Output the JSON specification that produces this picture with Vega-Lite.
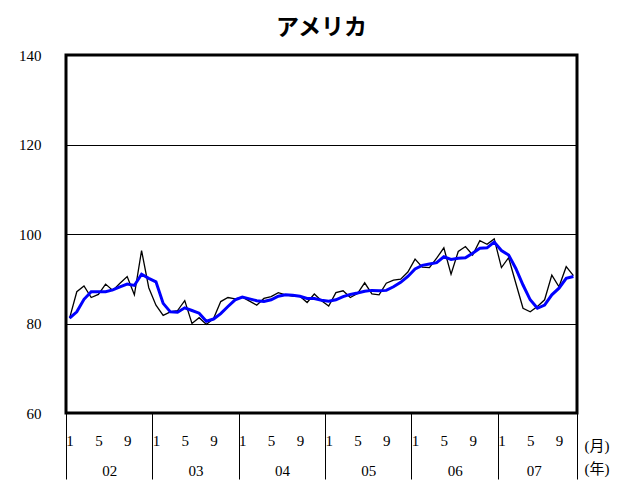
{
  "$schema": "https://vega.github.io/schema/vega-lite/v6.json",
  "width": 511,
  "height": 358,
  "autosize": {"type": "none"},
  "padding": {"left": 66, "top": 55, "right": 54, "bottom": 70},
  "background": "white",
  "title": {"text": "アメリカ", "font": "Noto Sans CJK JP", "fontSize": 23, "fontWeight": "bold", "color": "black", "offset": 8, "anchor": "middle"},
  "config": {"view": {"stroke": "black", "strokeWidth": 3}},
  "data": {"values": [
    {"m":0,"a":81.2,"b":81.2},{"m":1,"a":87.1,"b":82.6},{"m":2,"a":88.4,"b":85.4},{"m":3,"a":85.8,"b":87.1},
    {"m":4,"a":86.5,"b":87.1},{"m":5,"a":88.8,"b":87.1},{"m":6,"a":87.4,"b":87.5},{"m":7,"a":89.0,"b":88.2},
    {"m":8,"a":90.5,"b":88.8},{"m":9,"a":86.4,"b":88.5},{"m":10,"a":96.3,"b":91.0},{"m":11,"a":88.0,"b":90.1},
    {"m":12,"a":84.1,"b":89.3},{"m":13,"a":81.8,"b":84.5},{"m":14,"a":82.6,"b":82.6},{"m":15,"a":82.9,"b":82.5},
    {"m":16,"a":85.1,"b":83.5},{"m":17,"a":80.0,"b":82.9},{"m":18,"a":81.3,"b":82.3},{"m":19,"a":79.8,"b":80.5},
    {"m":20,"a":81.1,"b":81.0},{"m":21,"a":84.9,"b":82.2},{"m":22,"a":85.8,"b":83.8},{"m":23,"a":85.5,"b":85.3},
    {"m":24,"a":85.9,"b":85.9},{"m":25,"a":85.0,"b":85.5},{"m":26,"a":84.1,"b":85.1},{"m":27,"a":85.6,"b":84.9},
    {"m":28,"a":86.0,"b":85.3},{"m":29,"a":86.9,"b":86.1},{"m":30,"a":86.4,"b":86.4},{"m":31,"a":86.1,"b":86.3},
    {"m":32,"a":86.1,"b":86.1},{"m":33,"a":84.7,"b":85.6},{"m":34,"a":86.6,"b":85.6},{"m":35,"a":85.1,"b":85.2},
    {"m":36,"a":83.9,"b":85.0},{"m":37,"a":86.9,"b":85.3},{"m":38,"a":87.3,"b":86.0},{"m":39,"a":85.8,"b":86.5},
    {"m":40,"a":86.7,"b":86.8},{"m":41,"a":89.1,"b":87.2},{"m":42,"a":86.6,"b":87.4},{"m":43,"a":86.4,"b":87.3},
    {"m":44,"a":89.0,"b":87.4},{"m":45,"a":89.7,"b":88.2},{"m":46,"a":89.9,"b":89.2},{"m":47,"a":91.5,"b":90.5},
    {"m":48,"a":94.4,"b":92.2},{"m":49,"a":92.6,"b":93.0},{"m":50,"a":92.5,"b":93.3},{"m":51,"a":94.6,"b":93.6},
    {"m":52,"a":96.9,"b":94.9},{"m":53,"a":91.0,"b":94.3},{"m":54,"a":96.1,"b":94.6},{"m":55,"a":97.2,"b":94.7},
    {"m":56,"a":95.3,"b":95.7},{"m":57,"a":98.5,"b":96.8},{"m":58,"a":97.7,"b":96.9},{"m":59,"a":98.9,"b":98.2},
    {"m":60,"a":92.5,"b":96.3},{"m":61,"a":94.7,"b":95.3},{"m":62,"a":89.0,"b":92.3},{"m":63,"a":83.4,"b":88.6},
    {"m":64,"a":82.6,"b":85.3},{"m":65,"a":83.8,"b":83.4},{"m":66,"a":85.3,"b":84.1},{"m":67,"a":90.8,"b":86.4},
    {"m":68,"a":88.2,"b":87.9},{"m":69,"a":92.7,"b":90.1},{"m":70,"a":90.7,"b":90.5}
  ]},
  "layer": [
    {
      "mark": {"type": "line", "color": "black", "strokeWidth": 1.3},
      "encoding": {
        "x": {"field": "m", "type": "quantitative", "scale": {"domain": [-0.5, 70.5], "nice": false, "zero": false},
          "axis": {"orient": "bottom", "values": [0,4,8,12,16,20,24,28,32,36,40,44,48,52,56,60,64,68],
            "labelExpr": "'' + (datum.value % 12 + 1)", "ticks": false, "tickSize": 0, "domain": false, "grid": false,
            "labelPadding": 27, "labelBaseline": "middle", "labelFont": "Liberation Serif", "labelFontSize": 15, "labelColor": "black",
            "labelFlush": false, "labelOverlap": false,
            "title": "(月)", "titleX": 518, "titleY": 32, "titleAngle": 0, "titleAlign": "left", "titleBaseline": "middle",
            "titleFont": "Liberation Serif, Noto Sans CJK JP", "titleFontSize": 15, "titleFontWeight": "normal", "titleColor": "black"}},
        "y": {"field": "a", "type": "quantitative", "scale": {"domain": [60, 140], "nice": false, "zero": false},
          "axis": {"values": [60,80,100,120,140], "grid": true, "gridColor": "black", "gridWidth": 1, "domain": false, "ticks": false,
            "labelPadding": 25, "labelFont": "Liberation Serif", "labelFontSize": 15, "labelColor": "black", "title": null}}
      }
    },
    {
      "mark": {"type": "line", "color": "#0000FF", "strokeWidth": 3},
      "encoding": {
        "x": {"field": "m", "type": "quantitative", "scale": {"domain": [-0.5, 70.5], "nice": false, "zero": false},
          "axis": {"orient": "bottom", "values": [-0.5,5.5,11.5,17.5,23.5,29.5,35.5,41.5,47.5,53.5,59.5,64.5,70.5],
            "labelExpr": "(datum.value + 0.5) % 12 == 0 || datum.value == 70.5 ? '' : ['02','03','04','05','06','07'][floor(datum.value / 12)]",
            "ticks": true, "tickSize": 66, "tickWidth": 1,
            "tickColor": {"condition": {"test": "(datum.value + 0.5) % 12 == 0 || datum.value == 70.5", "value": "black"}, "value": "transparent"},
            "domain": false, "grid": false,
            "labelPadding": -9, "labelBaseline": "middle", "labelFont": "Liberation Serif", "labelFontSize": 15, "labelColor": "black",
            "labelFlush": false, "labelOverlap": false,
            "title": "(年)", "titleX": 518, "titleY": 55, "titleAngle": 0, "titleAlign": "left", "titleBaseline": "middle",
            "titleFont": "Liberation Serif, Noto Sans CJK JP", "titleFontSize": 15, "titleFontWeight": "normal", "titleColor": "black"}},
        "y": {"field": "b", "type": "quantitative", "scale": {"domain": [60, 140], "nice": false, "zero": false},
          "axis": {"values": [60,80,100,120,140], "grid": true, "gridColor": "black", "gridWidth": 1, "domain": false, "ticks": false,
            "labelPadding": 25, "labelFont": "Liberation Serif", "labelFontSize": 15, "labelColor": "black", "title": null}}
      }
    }
  ],
  "resolve": {"axis": {"x": "independent"}}
}
